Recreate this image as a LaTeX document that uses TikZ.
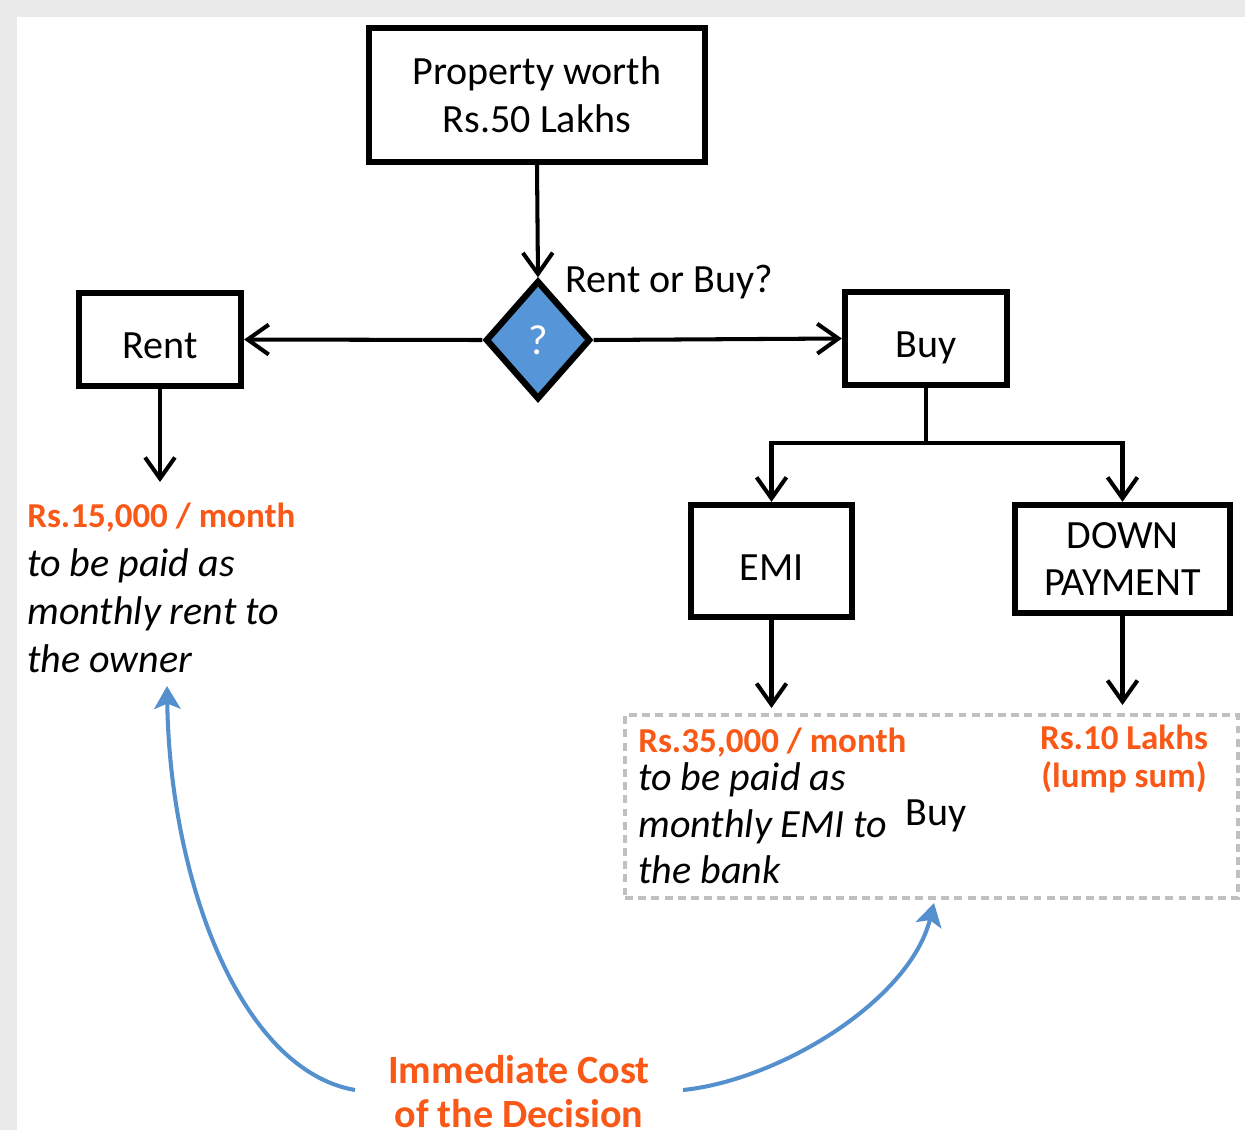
\documentclass[tikz,border=0pt]{standalone}
\usepackage{fontspec}
\setmainfont{Carlito}
\usetikzlibrary{arrows.meta,shapes.geometric}
\definecolor{orng}{RGB}{250,88,22}
\definecolor{bluef}{RGB}{86,150,216}
\definecolor{bluea}{RGB}{84,144,206}
\definecolor{bggray}{RGB}{234,234,234}
\definecolor{dashgray}{RGB}{192,192,192}
\begin{document}
\begin{tikzpicture}[x=0.02cm,y=-0.02cm,
  box/.style={draw=black, line width=3.6pt, fill=white, inner sep=0pt, align=center,
    font=\fontsize{22.8}{27.3}\selectfont},
  onebox/.style={box, text height=0.76cm, text depth=0pt},
  arr/.style={line width=2.3pt, -{Straight Barb[length=12pt,width=17pt]}},
  plainline/.style={line width=2.3pt},
  bluearr/.style={line width=2.3pt, draw=bluea, -{Stealth[length=13pt,width=15pt,inset=3pt]}},
  hdr/.style={anchor=base west, inner sep=0pt, text=orng, font=\fontsize{19.9}{24}\selectfont\bfseries},
  hdrc/.style={anchor=base, inner sep=0pt, text=orng, font=\fontsize{19.9}{24}\selectfont\bfseries},
  itl/.style={anchor=base west, inner sep=0pt, font=\fontsize{22.8}{27.3}\selectfont\itshape},
  big/.style={anchor=base, inner sep=0pt, text=orng, font=\fontsize{22.8}{27.3}\selectfont\bfseries},
  plain/.style={anchor=base west, inner sep=0pt, font=\fontsize{22.8}{27.3}\selectfont}
]
% background
\fill[bggray] (0,0) rectangle (1245,1130);
\fill[white] (17,17) rectangle (1245,1130);
\useasboundingbox (0,0) rectangle (1245,1130);

% boxes
\node[box, minimum width=6.72cm, minimum height=2.68cm] (prop) at (537,95) {Property worth\\Rs.50 Lakhs};
\node[diamond, draw=black, line width=3.6pt, fill=bluef, minimum width=2.1cm, minimum height=2.38cm,
  inner sep=0pt, text=white, font=\fontsize{24}{28}\selectfont] (dec) at (538,340) {?};
\node[plain] (q) at (565,292) {Rent or Buy?};
\node[onebox, minimum width=3.24cm, minimum height=1.86cm] (rent) at (160,339.5) {Rent};
\node[onebox, minimum width=3.24cm, minimum height=1.86cm] (buy) at (926,338.5) {Buy};
\node[onebox, minimum width=3.22cm, minimum height=2.24cm] (emi) at (771.5,561) {EMI};
\node[box, minimum width=4.3cm, minimum height=2.16cm] (down) at (1122.5,559) {DOWN\\PAYMENT};

% dashed box
\node[draw=dashgray, line width=2.3pt, dash pattern=on 4.5pt off 3pt, minimum width=12.26cm,
  minimum height=3.66cm, inner sep=0pt] (cost) at (931.5,806.5) {};

% coordinates
\coordinate (j) at (926,443);
\coordinate (rentend) at (160,482);
\coordinate (emiend) at (771.5,708);
\coordinate (downend) at (1122.5,705);
\coordinate (ls) at (355,1090);
\coordinate (le) at (167,686);
\coordinate (rs) at (683,1090);
\coordinate (re) at (934,903);

% connectors
\draw[arr] (prop.south) -- (dec.north);
\draw[arr] (dec.west) -- (rent.east);
\draw[arr] (dec.east) -- (buy.west);
\draw[plainline] (buy.south) -- (j);
\draw[arr] (j) -| (emi.north);
\draw[arr] (j) -| (down.north);
\draw[arr] (rent.south) -- (rentend);
\draw[arr] (emi.south) -- (emiend);
\draw[arr] (down.south) -- (downend);

% left text
\node[hdr] (r1) at (27,527) {Rs.15,000 / month};
\node[itl] (r2) at (27,576) {to be paid as};
\node[itl] (r3) at (27,624) {monthly rent to};
\node[itl] (r4) at (27,672) {the owner};

% right text
\node[hdr] (e1) at (638,752) {Rs.35,000 / month};
\node[itl] (e2) at (638,790) {to be paid as};
\node[itl] (e3) at (638,837) {monthly EMI to};
\node[itl] (e4) at (638,883) {the bank};
\node[plain] (eb) at (905,825) {Buy};
\node[hdrc] (d1) at (1124,749) {Rs.10 Lakhs};
\node[hdrc] (d2) at (1124,787) {(lump sum)};

% bottom label
\node[big] (i1) at (519,1083) {Immediate Cost};
\node[big] (i2) at (519,1127) {of the Decision};

% blue arrows
\draw[bluearr] (ls) .. controls (240,1070) and (170,880) .. (le);
\draw[bluearr] (rs) .. controls (780,1080) and (910,1000) .. (re);
\end{tikzpicture}
\end{document}
